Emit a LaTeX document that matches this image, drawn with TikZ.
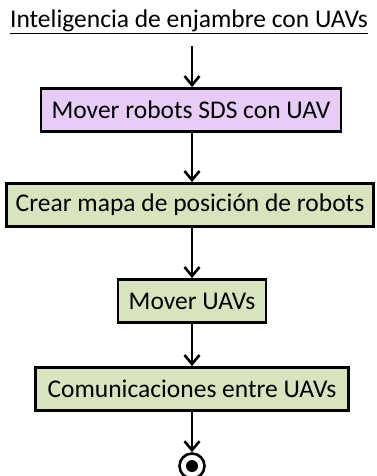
\documentclass[tikz,border=0pt]{standalone}
\usepackage{fontspec}
\setmainfont{Carlito}
\usetikzlibrary{arrows.meta}
\definecolor{lilac}{HTML}{E6CCF6}
\definecolor{sage}{HTML}{D8E4BC}
\tikzset{
  label font/.style={font=\fontsize{25.5}{30}\selectfont},
  stepbox/.style={draw=black, line width=2.8pt, minimum height=43pt, inner sep=0pt, label font},
  flow/.style={line width=2.6pt, -{Straight Barb[length=9pt,width=15pt,line width=2.6pt]}}
}
\begin{document}
\begin{tikzpicture}[x=1pt,y=-1pt]
  \useasboundingbox (0,0) rectangle (376,476);
  % title
  \node[label font, inner sep=0pt] (title) at (189,22) {\underline{Inteligencia de enjambre con UAVs}};
  \coordinate (tstart) at (192,46);
  % activity boxes
  \node[stepbox, fill=lilac, minimum width=300pt] (b1) at (191,110) {Mover robots SDS con UAV};
  \node[stepbox, fill=sage, minimum width=367pt] (b2) at (190,205) {Crear mapa de posición de robots};
  \node[stepbox, fill=sage, minimum width=148pt] (b3) at (192,301) {Mover UAVs};
  \node[stepbox, fill=sage, minimum width=313pt] (b4) at (192,389) {Comunicaciones entre UAVs};
  % final state
  \node[circle, draw=black, line width=2.6pt, minimum size=25pt, inner sep=0pt] (end) at (192,466) {};
  \fill (end.center) circle (6pt);
  % connectors
  \draw[flow] (tstart) -- (b1.north -| tstart);
  \draw[flow] (b1.south -| tstart) -- (b2.north -| tstart);
  \draw[flow] (b2.south -| tstart) -- (b3.north -| tstart);
  \draw[flow] (b3.south -| tstart) -- (b4.north -| tstart);
  \draw[flow] (b4.south -| tstart) -- (end.north);
\end{tikzpicture}
\end{document}
